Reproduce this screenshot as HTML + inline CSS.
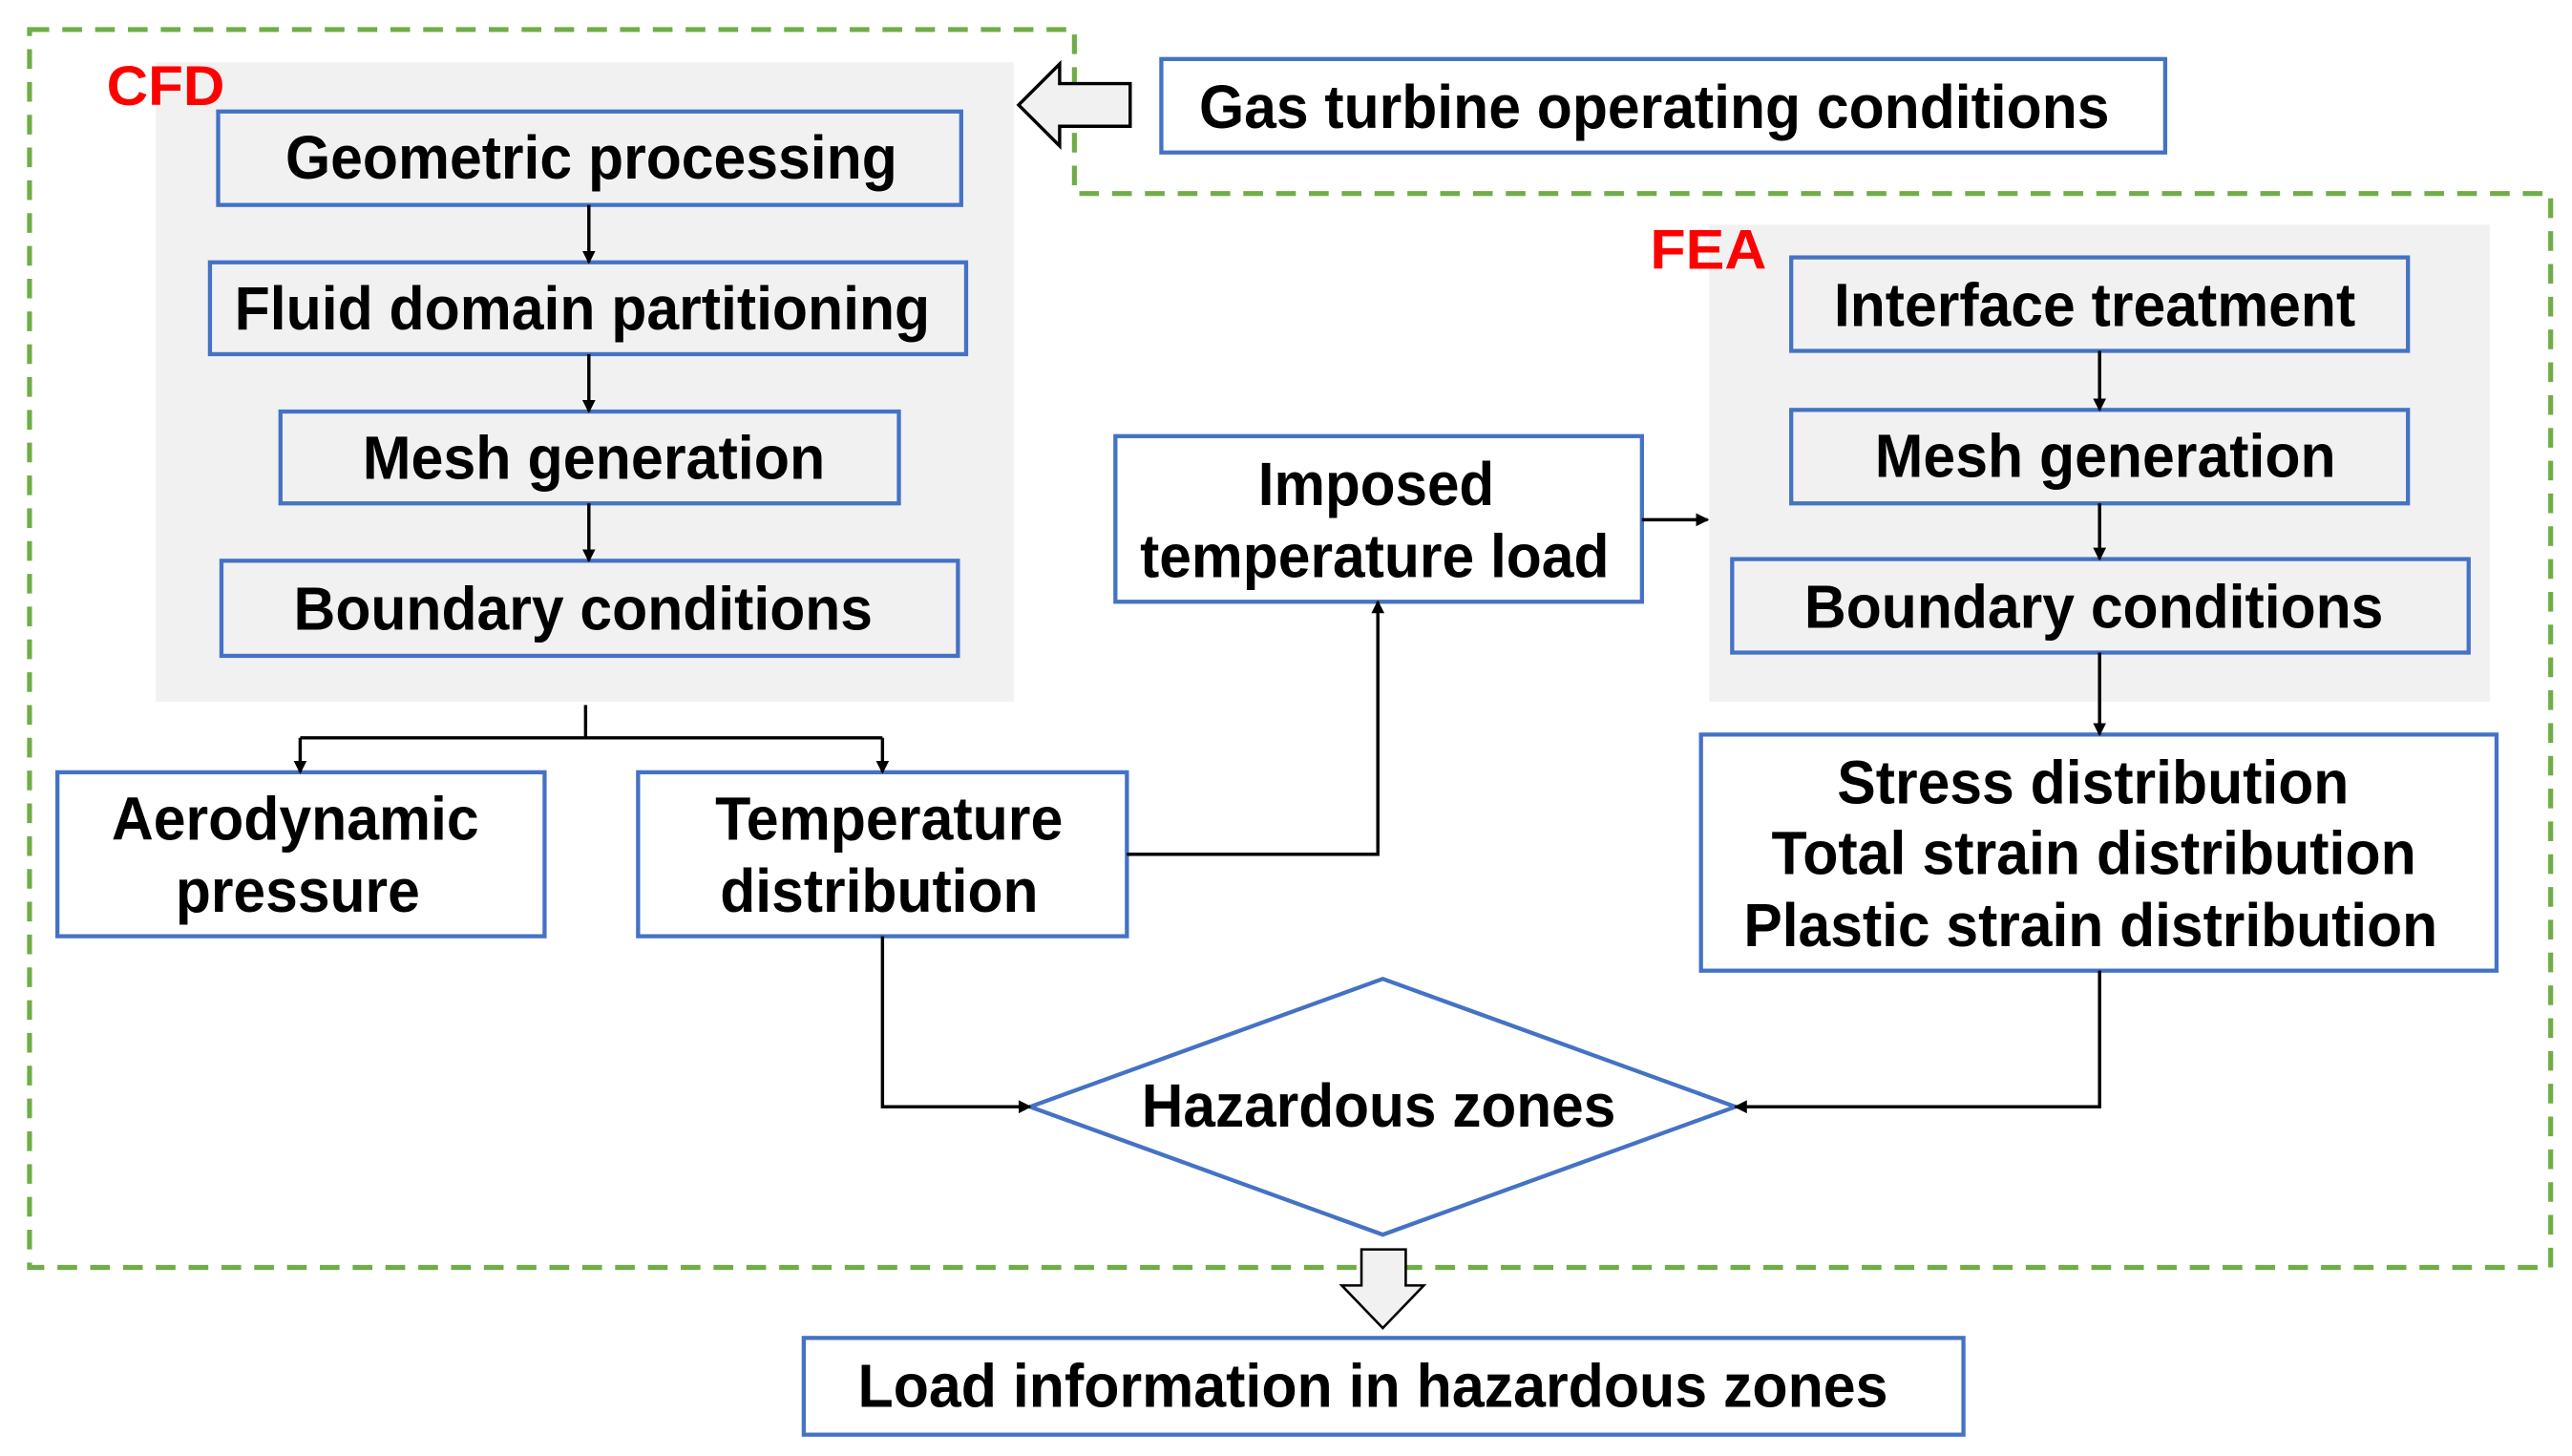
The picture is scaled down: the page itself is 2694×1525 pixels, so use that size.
<!DOCTYPE html>
<html><head><meta charset="utf-8"><style>
html,body{margin:0;padding:0;background:#fff;width:2694px;height:1525px;overflow:hidden}
svg{display:block}
text{font-family:"Liberation Sans",Arial,sans-serif;font-weight:bold;font-size:37px;fill:#000}
</style></head><body>
<svg width="2694" height="1525" viewBox="0 0 1568 888" preserveAspectRatio="none" xmlns="http://www.w3.org/2000/svg">
<defs><marker id="a" markerWidth="8" markerHeight="8" refX="7" refY="4" orient="auto" markerUnits="userSpaceOnUse"><path d="M0,0 L8,4 L0,8 z" fill="#000"/></marker></defs>
<rect x="95" y="38" width="523" height="390" fill="#f1f1f1"/>
<rect x="1042" y="137" width="476" height="291" fill="#f1f1f1"/>
<path d="M18,18 L655,18 L655,118 L1555,118 L1555,773 L18,773 Z" fill="none" stroke="#70ad47" stroke-width="3" stroke-dasharray="12,8"/>
<text x="65" y="64" textLength="72" lengthAdjust="spacingAndGlyphs" style="fill:#ff0000;font-size:34px">CFD</text>
<text x="1006" y="164" textLength="71" lengthAdjust="spacingAndGlyphs" style="fill:#ff0000;font-size:34px">FEA</text>
<g fill="#f1f1f1" stroke="#4472c4" stroke-width="2.5">
<rect x="133" y="68" width="453" height="57"/>
<rect x="128" y="160" width="461" height="56"/>
<rect x="171" y="251" width="377" height="56"/>
<rect x="135" y="342" width="449" height="58"/>
<rect x="1092" y="157" width="376" height="57"/>
<rect x="1092" y="250" width="376" height="57"/>
<rect x="1056" y="341" width="449" height="57"/>
</g>
<g fill="#fff" stroke="#4472c4" stroke-width="2.5">
<rect x="708" y="36" width="612" height="57"/>
<rect x="680" y="266" width="321" height="101"/>
<rect x="35" y="471" width="297" height="100"/>
<rect x="389" y="471" width="298" height="100"/>
<rect x="1037" y="448" width="485" height="144"/>
<rect x="490" y="816" width="707" height="59"/>
<polygon points="628,675 843,597 1058,675 843,753" />
</g>
<g stroke="#000" stroke-width="2" fill="none">
<line x1="359" y1="125" x2="359" y2="160" marker-end="url(#a)"/>
<line x1="359" y1="216" x2="359" y2="251" marker-end="url(#a)"/>
<line x1="359" y1="307" x2="359" y2="342" marker-end="url(#a)"/>
<line x1="1280" y1="214" x2="1280" y2="250" marker-end="url(#a)"/>
<line x1="1280" y1="307" x2="1280" y2="341" marker-end="url(#a)"/>
<line x1="1280" y1="398" x2="1280" y2="448" marker-end="url(#a)"/>
<line x1="1001" y1="317" x2="1041" y2="317" marker-end="url(#a)"/>
<polyline points="357,430 357,450"/>
<polyline points="183,450 538,450"/>
<line x1="183" y1="450" x2="183" y2="471" marker-end="url(#a)"/>
<line x1="538" y1="450" x2="538" y2="471" marker-end="url(#a)"/>
<polyline points="687,521 840,521 840,367" marker-end="url(#a)"/>
<polyline points="538,571 538,675 628,675" marker-end="url(#a)"/>
<polyline points="1280,592 1280,675 1058,675" marker-end="url(#a)"/>
</g>
<polygon points="621,64 646,39 646,51 689,51 689,77 646,77 646,89" fill="#f1f1f1" stroke="#000" stroke-width="2"/>
<polygon points="830,762 857,762 857,784 868,784 843,810 818,784 830,784" fill="#f1f1f1" stroke="#000" stroke-width="1.5"/>
<text x="174" y="109" textLength="373" lengthAdjust="spacingAndGlyphs">Geometric processing</text>
<text x="143" y="201" textLength="424" lengthAdjust="spacingAndGlyphs">Fluid domain partitioning</text>
<text x="221" y="292" textLength="282" lengthAdjust="spacingAndGlyphs">Mesh generation</text>
<text x="179" y="384" textLength="353" lengthAdjust="spacingAndGlyphs">Boundary conditions</text>
<text x="731" y="78" textLength="555" lengthAdjust="spacingAndGlyphs">Gas turbine operating conditions</text>
<text x="1118" y="199" textLength="318" lengthAdjust="spacingAndGlyphs">Interface treatment</text>
<text x="1143" y="291" textLength="281" lengthAdjust="spacingAndGlyphs">Mesh generation</text>
<text x="1100" y="383" textLength="353" lengthAdjust="spacingAndGlyphs">Boundary conditions</text>
<text x="767" y="308" textLength="144" lengthAdjust="spacingAndGlyphs">Imposed</text>
<text x="695" y="352" textLength="286" lengthAdjust="spacingAndGlyphs">temperature load</text>
<text x="68" y="512" textLength="224" lengthAdjust="spacingAndGlyphs">Aerodynamic</text>
<text x="107" y="556" textLength="149" lengthAdjust="spacingAndGlyphs">pressure</text>
<text x="436" y="512" textLength="212" lengthAdjust="spacingAndGlyphs">Temperature</text>
<text x="439" y="556" textLength="194" lengthAdjust="spacingAndGlyphs">distribution</text>
<text x="1120" y="490" textLength="312" lengthAdjust="spacingAndGlyphs">Stress distribution</text>
<text x="1080" y="533" textLength="393" lengthAdjust="spacingAndGlyphs">Total strain distribution</text>
<text x="1063" y="577" textLength="423" lengthAdjust="spacingAndGlyphs">Plastic strain distribution</text>
<text x="696" y="687" textLength="289" lengthAdjust="spacingAndGlyphs">Hazardous zones</text>
<text x="523" y="858" textLength="628" lengthAdjust="spacingAndGlyphs">Load information in hazardous zones</text>
</svg>
</body></html>
